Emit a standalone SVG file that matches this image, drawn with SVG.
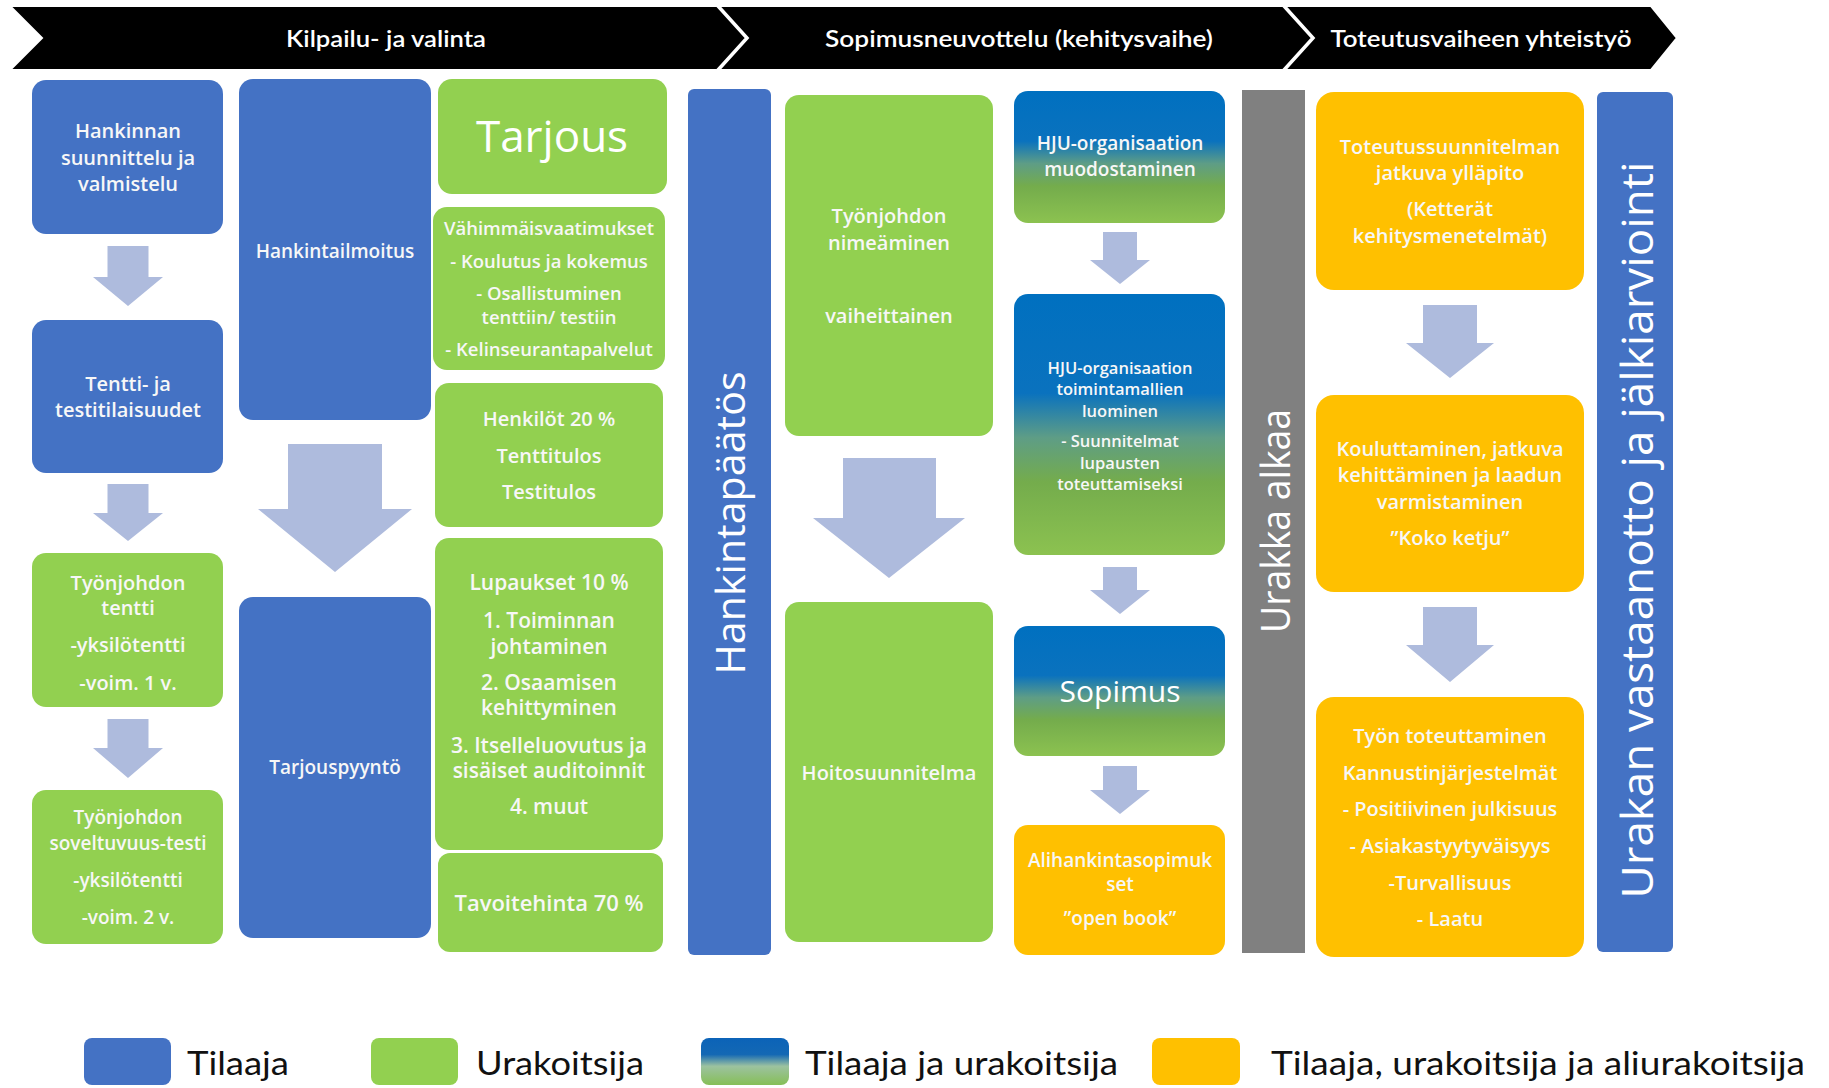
<svg xmlns="http://www.w3.org/2000/svg" width="1829" height="1088" viewBox="0 0 1829 1088">
<defs>
<linearGradient id="gBG" x1="0" y1="0" x2="0" y2="1">
<stop offset="0" stop-color="#0070C0"/>
<stop offset="0.38" stop-color="#0A72BE"/>
<stop offset="0.55" stop-color="#5E9D86"/>
<stop offset="0.72" stop-color="#74AC4C"/>
<stop offset="1" stop-color="#8CC250"/>
</linearGradient>
<linearGradient id="gLeg" x1="0" y1="0" x2="0" y2="1">
<stop offset="0" stop-color="#0B63B8"/>
<stop offset="0.35" stop-color="#1468B4"/>
<stop offset="0.6" stop-color="#9CC2A0"/>
<stop offset="1" stop-color="#86BF56"/>
</linearGradient>
</defs>
<style>
.blue{fill:#4472C4}
.green{fill:#92D050}
.orange{fill:#FFC000}
.grad{fill:url(#gBG)}
.gray{fill:#808080}
.arrow{fill:#AEBBDD}
.hdr{fill:#000;stroke:#fff;stroke-width:2}
.ht{font-family:Lato,"Open Sans",sans-serif;font-size:22px;font-weight:600;fill:#fff;text-anchor:middle;dominant-baseline:central}
.t{font-family:"Open Sans","Noto Sans",sans-serif;font-weight:600;font-size:19px;fill:#F7F7F7;text-anchor:middle;dominant-baseline:central}
.m{font-size:20px}
.l{font-size:21px}
.xl{font-size:22px}
.s{font-size:18.5px}
.xs{font-size:16.5px}
.big{font-family:"Open Sans","Noto Sans",sans-serif;font-weight:400;fill:#fff;text-anchor:middle;dominant-baseline:central}
.leg{font-family:Lato,"Open Sans",sans-serif;font-size:32px;fill:#111;dominant-baseline:central}
</style>
<rect width="1829" height="1088" fill="#fff"/>

<g id="header">
<polygon class="hdr" points="10,6 717,6 746,38 717,70 10,70 42,38"/>
<polygon class="hdr" points="719,6 1283,6 1312,38 1283,70 719,70 748,38"/>
<polygon class="hdr" points="1285,6 1651,6 1677,38 1651,70 1285,70 1314,38"/>
<text class="ht" x="386" y="38" textLength="200" lengthAdjust="spacingAndGlyphs">Kilpailu- ja valinta</text>
<text class="ht" x="1019" y="38" textLength="388" lengthAdjust="spacingAndGlyphs">Sopimusneuvottelu (kehitysvaihe)</text>
<text class="ht" x="1481" y="38" textLength="301" lengthAdjust="spacingAndGlyphs">Toteutusvaiheen yhteistyö</text>
</g>

<g id="connectors">
<path class="arrow" d="M107.5,246 H148.5 V277 H163 L128,306 L93,277 H107.5 Z"/>
<path class="arrow" d="M107.5,484 H148.5 V513 H163 L128,541 L93,513 H107.5 Z"/>
<path class="arrow" d="M107.5,719 H148.5 V748 H163 L128,778 L93,748 H107.5 Z"/>
<path class="arrow" d="M288,444 H382 V509 H412 L335,572 L258,509 H288 Z"/>
<path class="arrow" d="M843,458 H936 V518 H965 L889,578 L813,518 H843 Z"/>
<path class="arrow" d="M1103,232 H1137 V260 H1150 L1120,284 L1090,260 H1103 Z"/>
<path class="arrow" d="M1103,567 H1137 V590 H1150 L1120,614 L1090,590 H1103 Z"/>
<path class="arrow" d="M1103,766 H1137 V790 H1150 L1120,814 L1090,790 H1103 Z"/>
<path class="arrow" d="M1423,305 H1477 V343 H1494 L1450,378 L1406,343 H1423 Z"/>
<path class="arrow" d="M1423,607 H1477 V645 H1494 L1450,682 L1406,645 H1423 Z"/>
</g>

<g id="n-hankinnan">
<rect class="blue" x="32" y="80" width="191" height="154" rx="14"/>
<text class="t m" x="128" y="130">Hankinnan</text>
<text class="t m" x="128" y="157">suunnittelu ja</text>
<text class="t m" x="128" y="183">valmistelu</text>
</g>
<g id="n-tentti">
<rect class="blue" x="32" y="320" width="191" height="153" rx="14"/>
<text class="t m" x="128" y="383">Tentti- ja</text>
<text class="t m" x="128" y="409">testitilaisuudet</text>
</g>
<g id="n-tyonjohdon-tentti">
<rect class="green" x="32" y="553" width="191" height="154" rx="14"/>
<text class="t m" x="128" y="582">Työnjohdon</text>
<text class="t m" x="128" y="607">tentti</text>
<text class="t m" x="128" y="644">-yksilötentti</text>
<text class="t m" x="128" y="682">-voim. 1 v.</text>
</g>
<g id="n-soveltuvuus">
<rect class="green" x="32" y="790" width="191" height="154" rx="14"/>
<text class="t" x="128" y="817">Työnjohdon</text>
<text class="t" x="128" y="843">soveltuvuus-testi</text>
<text class="t" x="128" y="880">-yksilötentti</text>
<text class="t" x="128" y="917">-voim. 2 v.</text>
</g>

<g id="n-hankintailmoitus">
<rect class="blue" x="239" y="79" width="192" height="341" rx="14"/>
<text class="t" x="335" y="251">Hankintailmoitus</text>
</g>
<g id="n-tarjouspyynto">
<rect class="blue" x="239" y="597" width="192" height="341" rx="14"/>
<text class="t" x="335" y="767">Tarjouspyyntö</text>
</g>

<g id="n-tarjous">
<rect class="green" x="438" y="79" width="229" height="115" rx="14"/>
<text class="big" x="552" y="135" font-size="44">Tarjous</text>
</g>
<g id="n-vahimmais">
<rect class="green" x="433" y="207" width="232" height="163" rx="14"/>
<text class="t s" x="549" y="227">Vähimmäisvaatimukset</text>
<text class="t s" x="549" y="260">- Koulutus ja kokemus</text>
<text class="t s" x="549" y="292">- Osallistuminen</text>
<text class="t s" x="549" y="316">tenttiin/ testiin</text>
<text class="t s" x="549" y="348">- Kelinseurantapalvelut</text>
</g>
<g id="n-henkilot">
<rect class="green" x="435" y="383" width="228" height="144" rx="14"/>
<text class="t m" x="549" y="418">Henkilöt 20 %</text>
<text class="t m" x="549" y="455">Tenttitulos</text>
<text class="t m" x="549" y="491">Testitulos</text>
</g>
<g id="n-lupaukset">
<rect class="green" x="435" y="538" width="228" height="312" rx="14"/>
<text class="t l" x="549" y="582">Lupaukset 10 %</text>
<text class="t l" x="549" y="620">1. Toiminnan</text>
<text class="t l" x="549" y="646">johtaminen</text>
<text class="t l" x="549" y="682">2. Osaamisen</text>
<text class="t l" x="549" y="707">kehittyminen</text>
<text class="t l" x="549" y="745">3. Itselleluovutus ja</text>
<text class="t l" x="549" y="770">sisäiset auditoinnit</text>
<text class="t l" x="549" y="806">4. muut</text>
</g>
<g id="n-tavoitehinta">
<rect class="green" x="438" y="853" width="225" height="99" rx="12"/>
<text class="t xl" x="549" y="902">Tavoitehinta 70 %</text>
</g>

<g id="n-hankintapaatos">
<rect class="blue" x="688" y="89" width="83" height="866" rx="6"/>
<text class="big" transform="translate(729,523) rotate(-90)" font-size="41" textLength="303" lengthAdjust="spacingAndGlyphs">Hankintapäätös</text>
</g>

<g id="n-nimeaminen">
<rect class="green" x="785" y="95" width="208" height="341" rx="14"/>
<text class="t m" x="889" y="215">Työnjohdon</text>
<text class="t m" x="889" y="242">nimeäminen</text>
<text class="t m" x="889" y="315">vaiheittainen</text>
</g>
<g id="n-hoitosuunnitelma">
<rect class="green" x="785" y="602" width="208" height="340" rx="14"/>
<text class="t m" x="889" y="772">Hoitosuunnitelma</text>
</g>

<g id="n-hju1">
<rect class="grad" x="1014" y="91" width="211" height="132" rx="14"/>
<text class="t" x="1120" y="143">HJU-organisaation</text>
<text class="t" x="1120" y="169">muodostaminen</text>
</g>
<g id="n-hju2">
<rect class="grad" x="1014" y="294" width="211" height="261" rx="14"/>
<text class="t xs" x="1120" y="367">HJU-organisaation</text>
<text class="t xs" x="1120" y="388">toimintamallien</text>
<text class="t xs" x="1120" y="410">luominen</text>
<text class="t xs" x="1120" y="440">- Suunnitelmat</text>
<text class="t xs" x="1120" y="462">lupausten</text>
<text class="t xs" x="1120" y="483">toteuttamiseksi</text>
</g>
<g id="n-sopimus">
<rect class="grad" x="1014" y="626" width="211" height="130" rx="14"/>
<text class="big" x="1120" y="690" font-size="30" font-weight="600">Sopimus</text>
</g>
<g id="n-alihankinta">
<rect class="orange" x="1014" y="825" width="211" height="130" rx="14"/>
<text class="t" x="1120" y="860">Alihankintasopimuk</text>
<text class="t" x="1120" y="884">set</text>
<text class="t" x="1120" y="918">”open book”</text>
</g>

<g id="n-urakka-alkaa">
<rect class="gray" x="1242" y="90" width="63" height="863"/>
<text class="big" transform="translate(1274,521) rotate(-90)" font-size="40" textLength="224" lengthAdjust="spacingAndGlyphs">Urakka alkaa</text>
</g>

<g id="n-toteutussuunnitelma">
<rect class="orange" x="1316" y="92" width="268" height="198" rx="18"/>
<text class="t m" x="1450" y="146">Toteutussuunnitelman</text>
<text class="t m" x="1450" y="172">jatkuva ylläpito</text>
<text class="t m" x="1450" y="208">(Ketterät</text>
<text class="t m" x="1450" y="235">kehitysmenetelmät)</text>
</g>
<g id="n-kouluttaminen">
<rect class="orange" x="1316" y="395" width="268" height="197" rx="18"/>
<text class="t m" x="1450" y="448">Kouluttaminen, jatkuva</text>
<text class="t m" x="1450" y="474">kehittäminen ja laadun</text>
<text class="t m" x="1450" y="501">varmistaminen</text>
<text class="t m" x="1450" y="537">”Koko ketju”</text>
</g>
<g id="n-tyon-toteuttaminen">
<rect class="orange" x="1316" y="697" width="268" height="260" rx="18"/>
<text class="t m" x="1450" y="735">Työn toteuttaminen</text>
<text class="t m" x="1450" y="772">Kannustinjärjestelmät</text>
<text class="t m" x="1450" y="808">- Positiivinen julkisuus</text>
<text class="t m" x="1450" y="845">- Asiakastyytyväisyys</text>
<text class="t m" x="1450" y="882">-Turvallisuus</text>
<text class="t m" x="1450" y="918">- Laatu</text>
</g>

<g id="n-vastaanotto">
<rect class="blue" x="1597" y="92" width="76" height="860" rx="6"/>
<text class="big" transform="translate(1636,530) rotate(-90)" font-size="44" textLength="737" lengthAdjust="spacingAndGlyphs">Urakan vastaanotto ja jälkiarviointi</text>
</g>

<g id="legend">
<rect class="blue" x="84" y="1038" width="87" height="47" rx="8"/>
<text class="leg" x="187" y="1062" textLength="102" lengthAdjust="spacingAndGlyphs">Tilaaja</text>
<rect class="green" x="371" y="1038" width="87" height="47" rx="8"/>
<text class="leg" x="476" y="1062" textLength="168" lengthAdjust="spacingAndGlyphs">Urakoitsija</text>
<rect fill="url(#gLeg)" x="701" y="1038" width="88" height="47" rx="8"/>
<text class="leg" x="805" y="1062" textLength="313" lengthAdjust="spacingAndGlyphs">Tilaaja ja urakoitsija</text>
<rect class="orange" x="1152" y="1038" width="88" height="47" rx="8"/>
<text class="leg" x="1271" y="1062" textLength="534" lengthAdjust="spacingAndGlyphs">Tilaaja, urakoitsija ja aliurakoitsija</text>
</g>
</svg>
